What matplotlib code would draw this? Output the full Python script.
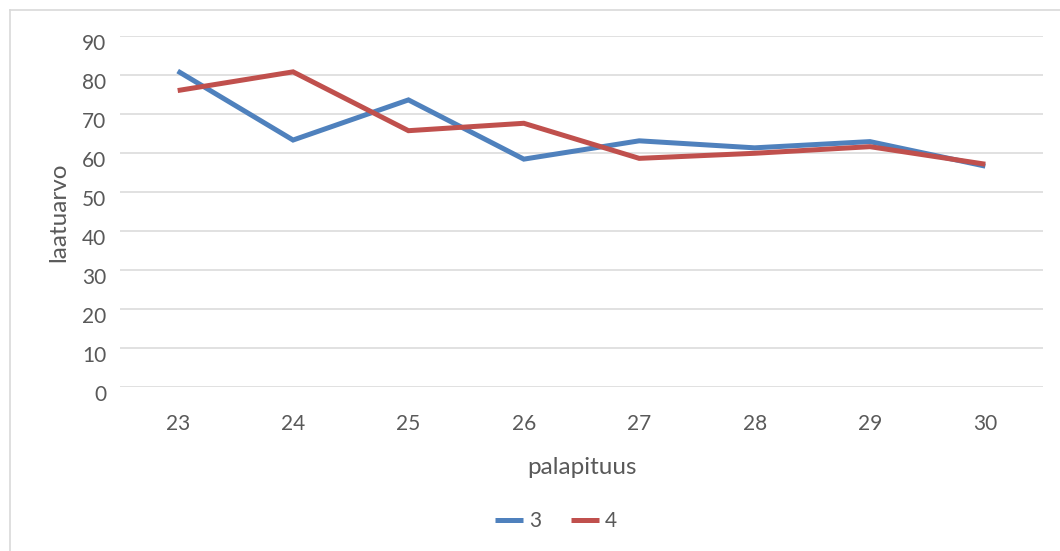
import matplotlib
matplotlib.use("Agg")
import matplotlib.pyplot as plt
from matplotlib.lines import Line2D
from matplotlib.transforms import ScaledTranslation

plt.rcParams['font.family'] = ['Lato', 'DejaVu Sans']

# data
categories = ["23", "24", "25", "26", "27", "28", "29", "30"]
series_3 = [81.0, 63.3, 73.6, 58.4, 63.1, 61.3, 62.9, 56.6]
series_4 = [76.0, 80.8, 65.7, 67.6, 58.6, 59.9, 61.6, 57.1]
y_ticks = [0, 10, 20, 30, 40, 50, 60, 70, 80, 90]

W, H = 1060, 551
text_col = "#595959"
grid_col = "#D9D9D9"

fig = plt.figure(figsize=(W / 100, H / 100), dpi=100)
ax = fig.add_axes([120 / W, 1 - 386.7 / H, (1043 - 120) / W, (386.7 - 36) / H])

x = list(range(len(categories)))
ax.plot(x, series_3, color="#4F81BD", lw=3.6, solid_joinstyle="miter",
        solid_capstyle="butt", label="3", zorder=3)
ax.plot(x, series_4, color="#C0504D", lw=3.6, solid_joinstyle="miter",
        solid_capstyle="butt", label="4", zorder=3)

ax.set_xlim(-0.5, len(categories) - 0.5)
ax.set_ylim(0, 90)
ax.set_xticks(x)
ax.set_xticklabels(categories)
ax.set_yticks(y_ticks)

ax.grid(axis="y", color=grid_col, lw=1.1)
ax.set_axisbelow(True)
for s in ax.spines.values():
  s.set_visible(False)
ax.tick_params(length=0, labelsize=15, labelcolor=text_col)
ax.tick_params(axis="x", pad=20)
ax.tick_params(axis="y", pad=10)

# excel puts the value labels slightly below their gridline
off = ScaledTranslation(0, -6 / 100, fig.dpi_scale_trans)
for lab in ax.get_yticklabels():
  lab.set_transform(lab.get_transform() + off)

fig.text(582 / W, 1 - 467 / H, "palapituus", ha="center", va="center",
         fontsize=17.5, color=text_col)
fig.text(59 / W, 1 - 212 / H, "laatuarvo", ha="center", va="center",
         rotation=90, fontsize=17.5, color=text_col)

ax.legend(loc="center", bbox_to_anchor=(556 / W, 1 - 521 / H),
          bbox_transform=fig.transFigure, ncol=2, frameon=False,
          fontsize=15, labelcolor=text_col, handlelength=1.35,
          handletextpad=0.3, columnspacing=1.4)

# chart frame (cut at right and bottom in the reference)
fig.add_artist(Line2D([10 / W, 1], [1 - 10 / H, 1 - 10 / H],
                      transform=fig.transFigure, color=grid_col, lw=1.2))
fig.add_artist(Line2D([10 / W, 10 / W], [1 - 10 / H, 0],
                      transform=fig.transFigure, color=grid_col, lw=1.2))

fig.savefig("out.png", dpi=100)
